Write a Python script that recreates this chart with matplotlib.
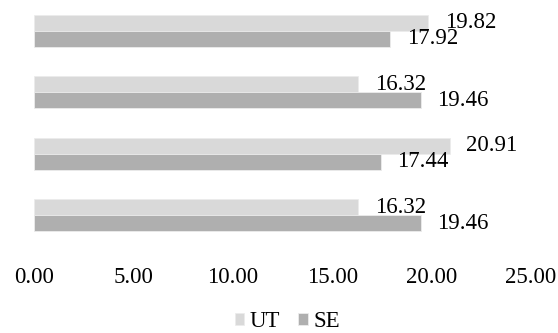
import matplotlib
matplotlib.use("Agg")
import matplotlib.pyplot as plt
import numpy as np

plt.rcParams['font.family'] = ['Liberation Serif', 'DejaVu Serif']

# Values per group, listed top to bottom
groups = ["A", "B", "C", "D"]
ut_values = [19.82, 16.32, 20.91, 16.32]
se_values = [17.92, 19.46, 17.44, 19.46]
series_names = ["UT", "SE"]
xticks = [0, 5, 10, 15, 20, 25]

ut_color = "#d9d9d9"
se_color = "#afafaf"
fs = 16.5

fig = plt.figure(figsize=(5.58, 3.33), dpi=100)
ax = fig.add_axes([34 / 558, (333 - 246) / 333, 497 / 558, 246 / 333])

y = np.arange(len(groups))
h = 0.26
b1 = ax.barh(y - h / 2, ut_values, height=h, color=ut_color, edgecolor="#ececec",
             linewidth=0.6, label=series_names[0])
b2 = ax.barh(y + h / 2, se_values, height=h, color=se_color, edgecolor="#ececec",
             linewidth=0.6, label=series_names[1])

for bars, vals in ((b1, ut_values), (b2, se_values)):
    for rect, v in zip(bars, vals):
        ax.annotate(f"{v:.2f}", xy=(v, rect.get_y() + rect.get_height() / 2),
                    xytext=(12, 0), textcoords="offset points",
                    ha="left", va="center", fontsize=fs, color="#000000")

ax.set_xlim(0, 25)
ax.set_ylim(3.5, -0.5)
ax.set_xticks(xticks)
ax.set_xticklabels([f"{t:.2f}" for t in xticks], fontsize=fs)
ax.set_yticks([])
ax.tick_params(axis="x", length=0, pad=15)
for s in ax.spines.values():
    s.set_visible(False)

leg = fig.legend(handles=[b1, b2], labels=series_names, loc="lower center",
                 bbox_to_anchor=(0.515, -0.06), ncol=2, frameon=False, fontsize=fs,
                 handlelength=0.4, handleheight=0.4, handletextpad=0.25,
                 columnspacing=0.8)

fig.savefig("out.png", dpi=100)
